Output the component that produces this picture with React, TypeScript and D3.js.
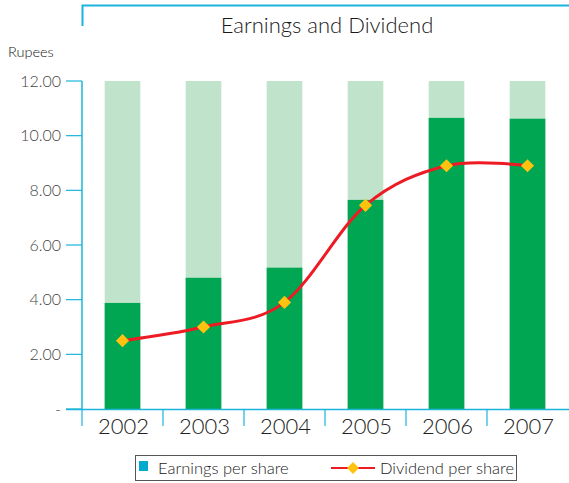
import React from "react";
import * as d3 from "d3";

const years = ["2002", "2003", "2004", "2005", "2006", "2007"];
const earnings = [3.88, 4.8, 5.17, 7.65, 10.65, 10.62];
const dividend = [2.5, 3.0, 3.9, 7.45, 8.9, 8.9];
const yTicks = [0, 2, 4, 6, 8, 10, 12];

const width = 569;
const height = 483;
const font = "Lato, 'Open Sans', sans-serif";
const cyan = "#1bb4dc";

export default function App() {
  const x = d3.scaleBand().domain(years).range([82, 568]).paddingInner(0.56).paddingOuter(0.28);
  const band = d3.scaleBand().domain(years).range([82, 568]);
  const y = d3.scaleLinear().domain([0, 12]).range([409, 81]);

  const line = d3
    .line<number>()
    .x((_, i) => x(years[i])! + x.bandwidth() / 2)
    .y((d) => y(d))
    .curve(d3.curveCatmullRom.alpha(0));

  const diamond = d3.symbol(d3.symbolDiamond2, 110);

  return (
    <svg width={width} height={height} style={{ position: "absolute", left: 0, top: 0 }}>
      {/* title frame */}
      <path d="M82.5,26 V5.5 H569" fill="none" stroke={cyan} strokeWidth={2} />
      <text x={327} y={33} textAnchor="middle" fontFamily={font} fontWeight={300} fontSize={22} fill="#1a1a1a">
        Earnings and Dividend
      </text>
      <text x={8} y={57} fontFamily={font} fontWeight={300} fontSize={14.5} fill="#111">
        Rupees
      </text>

      {/* bars */}
      {years.map((yr, i) => (
        <g key={yr}>
          <rect x={x(yr)} y={y(12)} width={x.bandwidth()} height={y(0) - y(12)} fill="#c0e3cc" />
          <rect x={x(yr)} y={y(earnings[i])} width={x.bandwidth()} height={y(0) - y(earnings[i])} fill="#00a651" />
        </g>
      ))}

      {/* y axis */}
      <line x1={82} x2={82} y1={y(12)} y2={410} stroke={cyan} strokeWidth={1.5} />
      {yTicks.map((t) => (
        <g key={t}>
          <line x1={66} x2={82} y1={y(t)} y2={y(t)} stroke={cyan} strokeWidth={1.2} />
          <text x={61} y={y(t) + 5.5} textAnchor="end" fontFamily={font} fontWeight={300} fontSize={16} fill="#444">
            {t === 0 ? "-" : d3.format(".2f")(t)}
          </text>
        </g>
      ))}

      {/* x axis */}
      <line x1={66} x2={569} y1={409.5} y2={409.5} stroke={cyan} strokeWidth={1.5} />
      {years.map((yr) => (
        <g key={yr}>
          <line x1={band(yr)!} x2={band(yr)!} y1={409} y2={426} stroke={cyan} strokeWidth={1.2} />
          <text x={band(yr)! + band.bandwidth() / 2 + 1} y={434} textAnchor="middle" fontFamily={font} fontWeight={300} fontSize={22} fill="#222">
            {yr}
          </text>
        </g>
      ))}

      {/* dividend line */}
      <path d={line(dividend)!} fill="none" stroke="#ed1c24" strokeWidth={3} />
      {dividend.map((d, i) => (
        <path key={i} d={diamond()!} transform={`translate(${x(years[i])! + x.bandwidth() / 2},${y(d)})`} fill="#ffc20e" />
      ))}

      {/* legend */}
      <rect x={135.5} y={455.5} width={381} height={25} fill="none" stroke="#555" strokeWidth={1} />
      <rect x={139} y={461} width={9} height={10} fill="#00a9ce" />
      <text x={158} y={473.5} fontFamily={font} fontWeight={300} fontSize={16.5} fill="#222">
        Earnings per share
      </text>
      <line x1={331} x2={375} y1={468} y2={468} stroke="#ed1c24" strokeWidth={2} />
      <path d={diamond.size(90)()!} transform="translate(353,468)" fill="#ffc20e" />
      <text x={380} y={473.5} fontFamily={font} fontWeight={300} fontSize={16.5} fill="#222">
        Dividend per share
      </text>
    </svg>
  );
}
